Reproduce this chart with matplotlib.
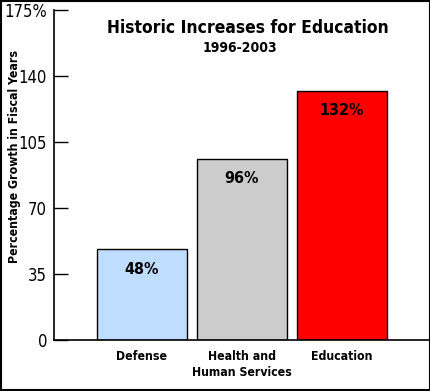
import matplotlib.pyplot as plt
from matplotlib.patches import Rectangle

categories = ["Defense", "Health and\nHuman Services", "Education"]
growth = [48, 96, 132]
bar_labels = ["48%", "96%", "132%"]
bar_colors = ["#BFDDFF", "#CCCCCC", "#FF0000"]
yticks = [0, 35, 70, 105, 140, 175]
ytick_labels = ["0", "35", "70", "105", "140", "175%"]

plt.rcParams['font.family'] = ['DejaVu Sans']
plt.rcParams['font.stretch'] = 'condensed'

W, H = 431, 391
fig = plt.figure(figsize=(W / 100, H / 100), dpi=100)
ax = fig.add_axes([54 / W, 51 / H, 376 / W, 330 / H])

x = list(range(len(categories)))
ax.bar(x, growth, width=0.9, color=bar_colors, edgecolor="black", linewidth=1)

# percentage labels inside the bars, near the top
for xi, v, lab in zip(x, growth, bar_labels):
    ax.text(xi, v - 10.5, lab, ha="center", va="center", fontsize=11.5,
            fontweight="bold", fontstretch="condensed")

ax.set_xlim(-0.88, 2.88)
ax.set_ylim(0, 175)
ax.set_yticks(yticks)
ax.set_yticklabels(ytick_labels, fontsize=12, fontstretch="condensed")
ax.tick_params(axis="y", direction="in", length=10, width=1, pad=5)
ax.set_xticks(x)
ax.set_xticklabels(categories, fontsize=8.8, fontweight="bold", va="top",
                   fontstretch="condensed")
ax.tick_params(axis="x", length=0, pad=7)
for lbl in ax.get_xticklabels():
    lbl.set_linespacing(1.35)

for side in ["top", "right"]:
    ax.spines[side].set_visible(False)
ax.spines["left"].set_linewidth(1.2)
ax.spines["bottom"].set_linewidth(1.2)

ax.set_ylabel("Percentage Growth in Fiscal Years", fontsize=8.8, fontweight="bold",
              fontstretch="condensed")
ax.yaxis.set_label_coords(-33 / 376, 0.557)

fig.text(248 / W, 1 - 28 / H, "Historic Increases for Education", ha="center", va="center",
         fontsize=12.5, fontweight="bold", fontstretch="condensed")
fig.text(240 / W, 1 - 48 / H, "1996-2003", ha="center", va="center",
         fontsize=10, fontweight="bold", fontstretch="condensed")

# outer frame round the whole picture
fig.patches.append(Rectangle((0.002, 0.002), 0.995, 0.995, transform=fig.transFigure,
                             fill=False, edgecolor="black", linewidth=1.5))

fig.savefig("out.png", dpi=100)
